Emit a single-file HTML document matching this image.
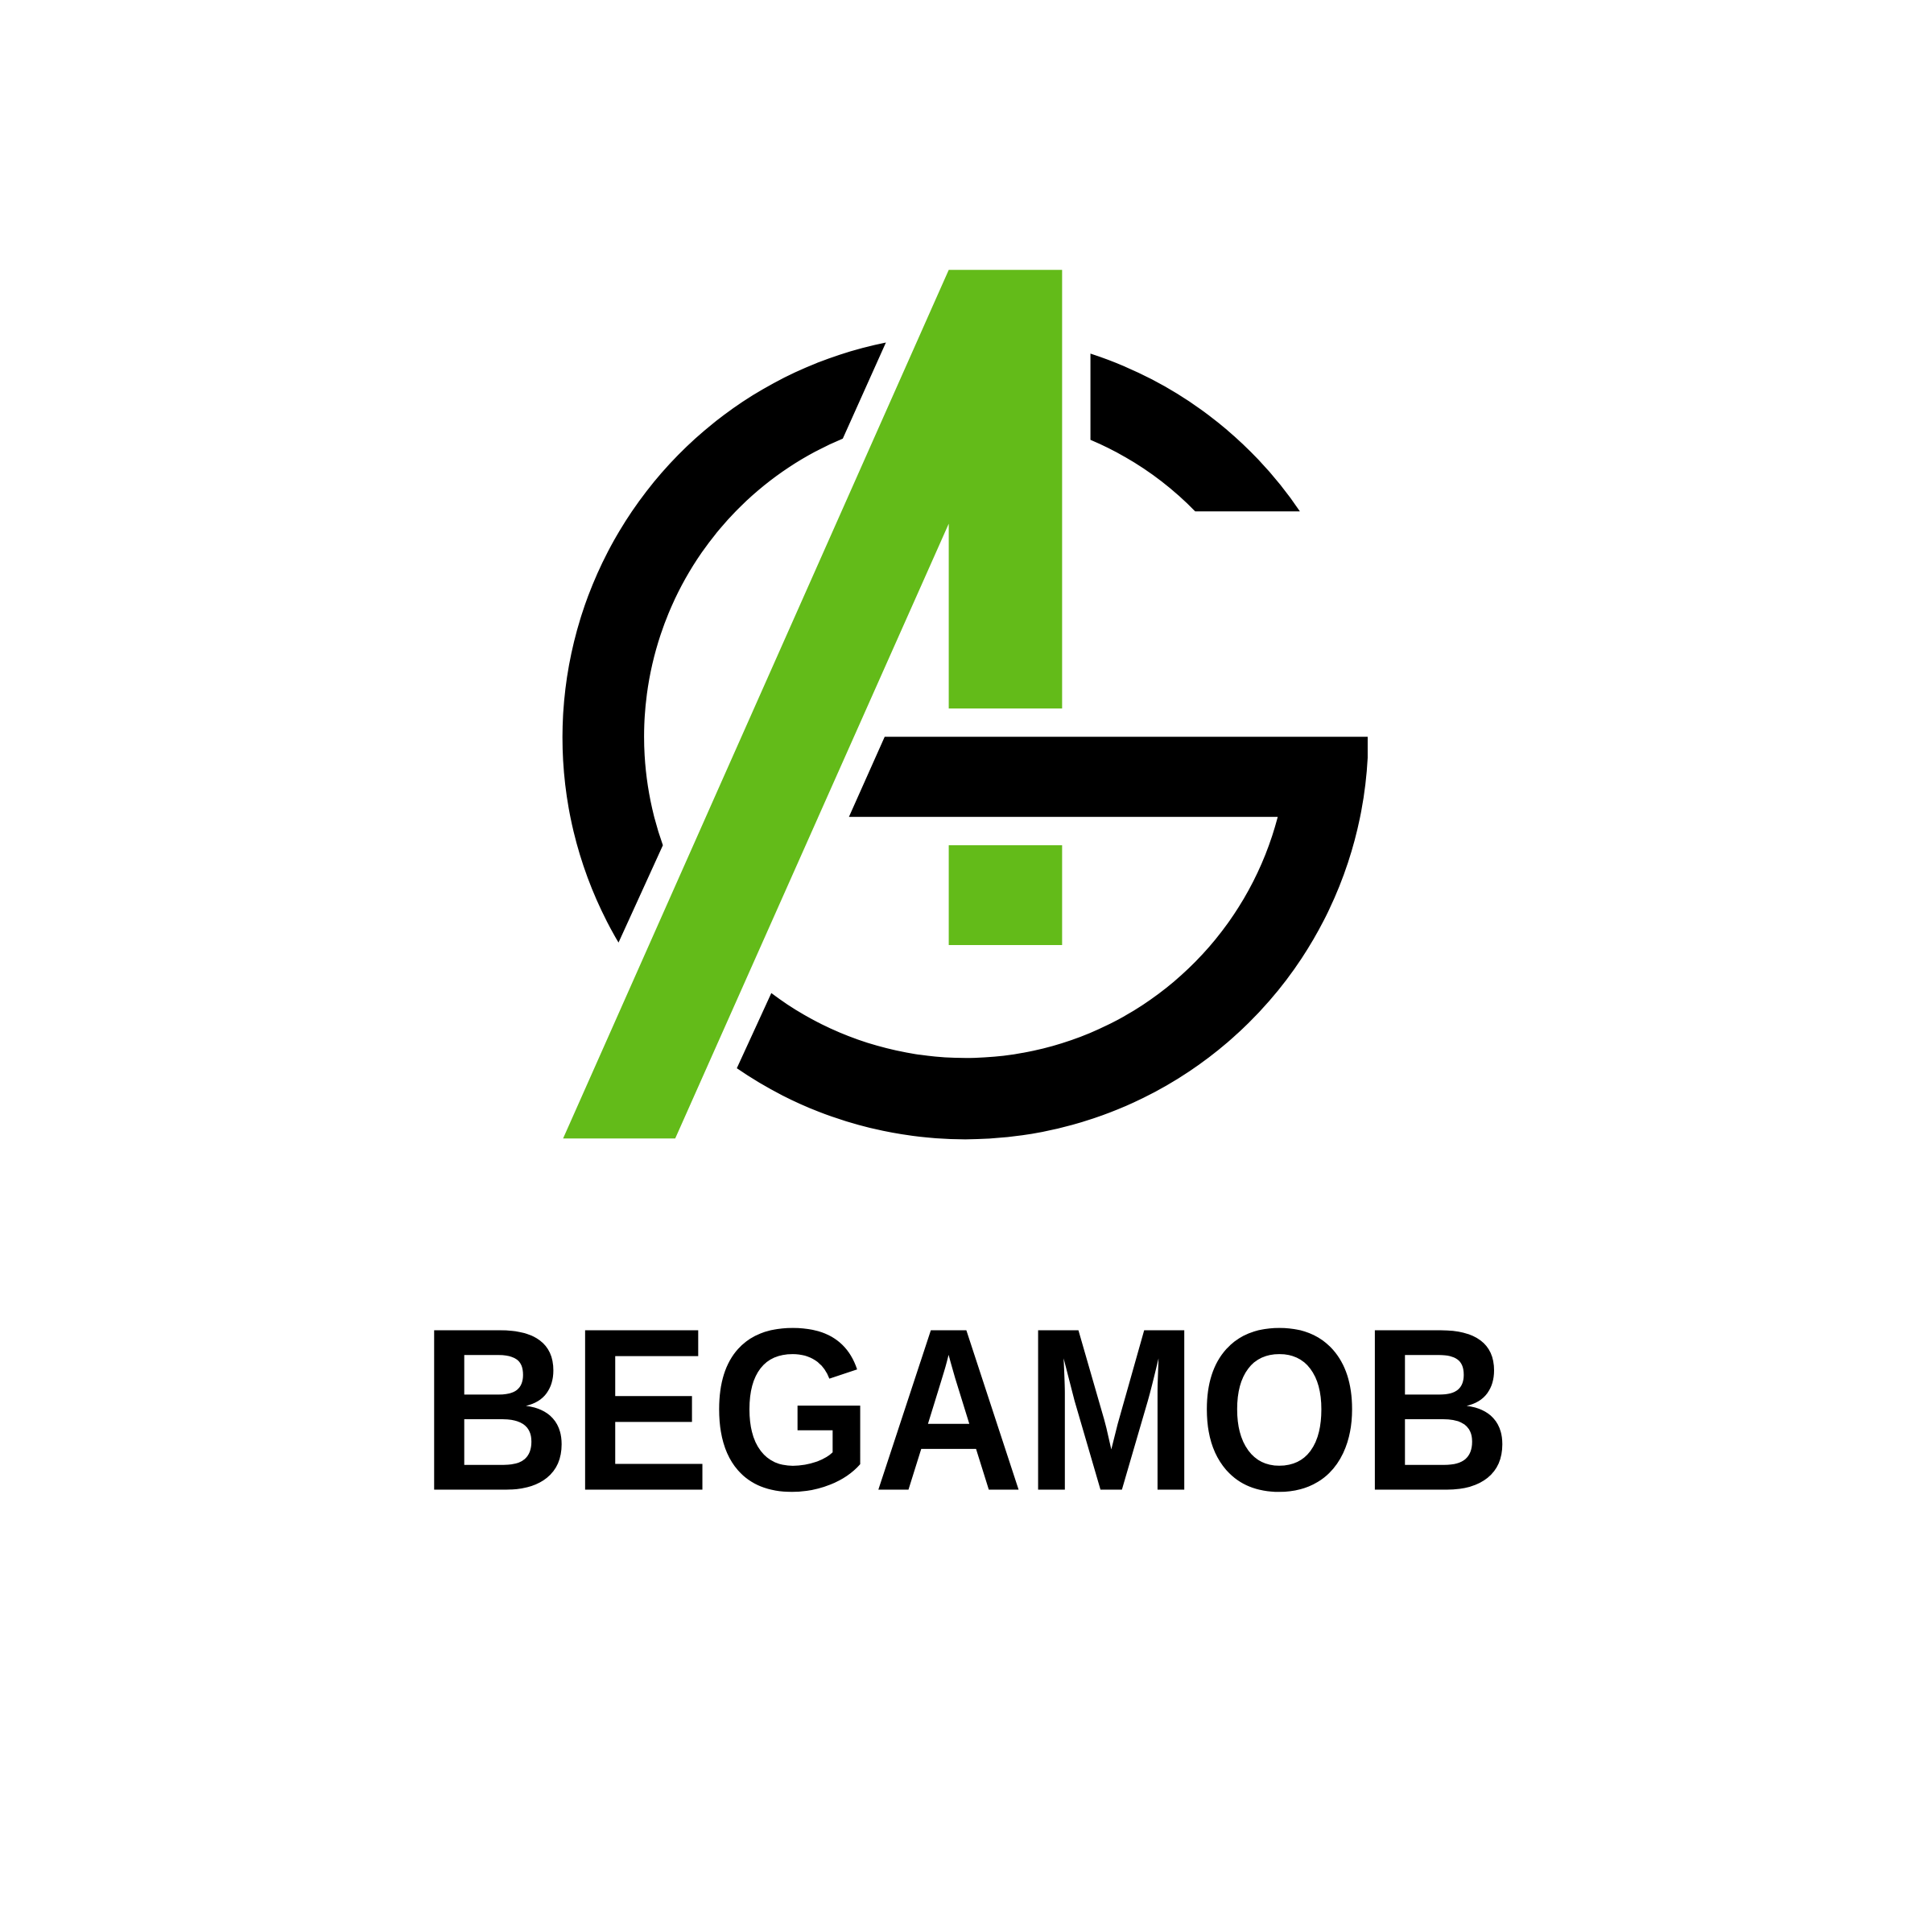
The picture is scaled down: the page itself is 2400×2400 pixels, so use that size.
<!DOCTYPE html>
<html><head><meta charset="utf-8"><style>
html,body{margin:0;padding:0;background:#fff;}
svg{display:block;}
</style></head><body>
<svg width="2400" height="2400" viewBox="0 0 1568 1568" xmlns="http://www.w3.org/2000/svg">
<rect width="1568" height="1568" fill="#fff"/>
<path fill="#000" d="M719,278 A327,327 0 0 0 502,765 L538,686 A262,262 0 0 1 684,356 Z"/>
<path fill="#000" d="M885,287 L885,357 A262,262 0 0 1 970,415 L1055,415 A327,327 0 0 0 885,287 Z"/>
<path fill="#000" d="M718,598 L1110,598 L1110,615 A327,327 0 0 1 598,867 L626,806 A262,262 0 0 0 1037,663 L689,663 Z"/>
<path fill="#63bb19" d="M770,219 L862,219 L862,575 L770,575 L770,425 L548,924 L457,924 Z"/>
<rect fill="#63bb19" x="770" y="686" width="92" height="81"/>
<text x="341" y="1209" font-family="'Liberation Sans', sans-serif" font-weight="bold" font-size="188" textLength="886" lengthAdjust="spacingAndGlyphs" fill="#000">BEGAMOB</text>
</svg>
</body></html>
